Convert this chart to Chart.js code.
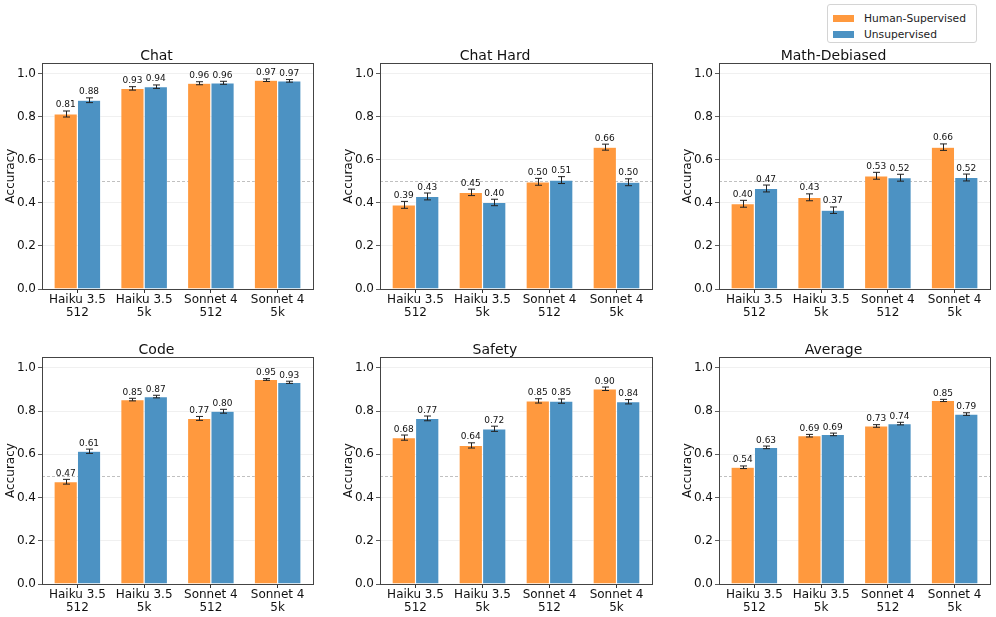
<!DOCTYPE html>
<html>
<head>
<meta charset="utf-8">
<script src="https://cdn.jsdelivr.net/npm/chart.js@4.4.1/dist/chart.umd.min.js"></script>
<style>
  html, body { margin: 0; padding: 0; background: #fff; }
  body { width: 996px; height: 617px; position: relative; overflow: hidden; font-family: "DejaVu Sans", sans-serif; }
  canvas { position: absolute; }
  #legend { position: absolute; left: 827px; top: 4px; width: 148px; height: 37px; border: 1px solid #d4d4d4; border-radius: 3px; background: #fff; font-size: 10.7px; color: #222; }
  .item { position: absolute; left: 5px; height: 14px; display: flex; align-items: center; }
  .sw { display: inline-block; width: 21px; height: 7px; margin-right: 10px; }
</style>
</head>
<body>
<div id="legend">
  <div class="item" style="top:6px"><span class="sw" style="background:#ff993e"></span>Human-Supervised</div>
  <div class="item" style="top:22px"><span class="sw" style="background:#4c92c3"></span>Unsupervised</div>
</div>
<script>
// data
const categories = [['Haiku 3.5', '512'], ['Haiku 3.5', '5k'], ['Sonnet 4', '512'], ['Sonnet 4', '5k']];
const seriesNames = ['Human-Supervised', 'Unsupervised'];
const yTicks = [0, 0.2, 0.4, 0.6, 0.8, 1.0];
const panelTitles = ['Chat', 'Chat Hard', 'Math-Debiased', 'Code', 'Safety', 'Average'];

const chatHuman = [0.813, 0.932, 0.956, 0.970];
const chatUnsup = [0.877, 0.940, 0.958, 0.967];
const chatHumanErr = [0.014, 0.008, 0.007, 0.006];
const chatUnsupErr = [0.011, 0.008, 0.007, 0.006];

const chatHardHuman = [0.391, 0.449, 0.498, 0.659];
const chatHardUnsup = [0.430, 0.402, 0.506, 0.496];
const chatHardHumanErr = [0.016, 0.015, 0.016, 0.014];
const chatHardUnsupErr = [0.016, 0.015, 0.016, 0.016];

const mathHuman = [0.396, 0.426, 0.526, 0.659];
const mathUnsup = [0.467, 0.366, 0.517, 0.518];
const mathHumanErr = [0.016, 0.016, 0.016, 0.015];
const mathUnsupErr = [0.016, 0.015, 0.016, 0.016];

const codeHuman = [0.473, 0.853, 0.766, 0.946];
const codeUnsup = [0.614, 0.867, 0.799, 0.933];
const codeHumanErr = [0.011, 0.006, 0.009, 0.004];
const codeUnsupErr = [0.010, 0.006, 0.009, 0.005];

const safetyHuman = [0.677, 0.641, 0.847, 0.903];
const safetyUnsup = [0.766, 0.718, 0.846, 0.843];
const safetyHumanErr = [0.012, 0.012, 0.010, 0.008];
const safetyUnsupErr = [0.011, 0.012, 0.010, 0.010];

const avgHuman = [0.540, 0.686, 0.731, 0.849];
const avgUnsup = [0.632, 0.692, 0.742, 0.786];
const avgHumanErr = [0.006, 0.006, 0.006, 0.005];
const avgUnsupErr = [0.006, 0.006, 0.006, 0.006];

const panels = [
  [chatHuman, chatUnsup, chatHumanErr, chatUnsupErr],
  [chatHardHuman, chatHardUnsup, chatHardHumanErr, chatHardUnsupErr],
  [mathHuman, mathUnsup, mathHumanErr, mathUnsupErr],
  [codeHuman, codeUnsup, codeHumanErr, codeUnsupErr],
  [safetyHuman, safetyUnsup, safetyHumanErr, safetyUnsupErr],
  [avgHuman, avgUnsup, avgHumanErr, avgUnsupErr],
];

const colors = ['#ff993e', '#4c92c3'];

// plot-area layout in page pixels
const cols = [[42, 313], [380, 652], [719, 990]];
const rows = [[63, 289], [357, 584]];
const AXIS_W = 42, TITLE_H = 32, XAXIS_H = 33, PAD_R = 4;

const frameAndRef = {
  id: 'frameAndRef',
  beforeDatasetsDraw(chart) {
    const { ctx, chartArea: a, scales: { y } } = chart;
    ctx.save();
    ctx.strokeStyle = '#b0b0b0';
    ctx.lineWidth = 0.8;
    ctx.setLineDash([3, 2]);
    const py = Math.round(y.getPixelForValue(0.5)) + 0.5;
    ctx.beginPath();
    ctx.moveTo(a.left, py);
    ctx.lineTo(a.right, py);
    ctx.stroke();
    ctx.restore();
  },
  afterDraw(chart) {
    const { ctx, chartArea: a } = chart;
    ctx.save();
    ctx.strokeStyle = '#444';
    ctx.lineWidth = 1;
    ctx.strokeRect(Math.round(a.left) + 0.5, Math.round(a.top) + 0.5, Math.round(a.right - a.left), Math.round(a.bottom - a.top));
    ctx.restore();
  }
};

const errorBars = {
  id: 'errorBars',
  afterDatasetsDraw(chart) {
    const { ctx, scales: { y } } = chart;
    ctx.save();
    chart.data.datasets.forEach((ds, di) => {
      const meta = chart.getDatasetMeta(di);
      meta.data.forEach((bar, i) => {
        const v = ds.data[i].y;
        const e = ds.errors[i];
        const top = y.getPixelForValue(v + e);
        const bot = y.getPixelForValue(v - e);
        const x = Math.round(bar.x) + 0.5;
        ctx.strokeStyle = '#222';
        ctx.lineWidth = 1;
        ctx.beginPath();
        ctx.moveTo(x, top); ctx.lineTo(x, bot);
        ctx.moveTo(x - 3.5, top); ctx.lineTo(x + 3.5, top);
        ctx.moveTo(x - 3.5, bot); ctx.lineTo(x + 3.5, bot);
        ctx.stroke();
        ctx.fillStyle = '#111';
        ctx.font = '9px "DejaVu Sans"';
        ctx.textAlign = 'center';
        ctx.textBaseline = 'alphabetic';
        ctx.fillText(v.toFixed(2), bar.x, top - 3.5);
      });
    });
    ctx.restore();
  }
};

panels.forEach((p, k) => {
  const [x0, x1] = cols[k % 3];
  const [y0, y1] = rows[Math.floor(k / 3)];
  const canvas = document.createElement('canvas');
  const w = (x1 - x0) + AXIS_W + PAD_R;
  const h = (y1 - y0) + TITLE_H + XAXIS_H;
  canvas.width = w; canvas.height = h;
  canvas.style.left = (x0 - AXIS_W) + 'px';
  canvas.style.top = (y0 - TITLE_H) + 'px';
  canvas.style.width = w + 'px';
  canvas.style.height = h + 'px';
  document.body.appendChild(canvas);

  new Chart(canvas, {
    type: 'bar',
    data: {
      datasets: [0, 1].map(s => ({
        label: seriesNames[s],
        data: p[s].map((v, i) => ({ x: i, y: v })),
        errors: p[s + 2],
        backgroundColor: colors[s],
        borderColor: 'rgba(255,255,255,0.5)',
        borderWidth: 0.6,
        categoryPercentage: 0.7,
        barPercentage: 1.0,
      })),
    },
    options: {
      responsive: false,
      animation: false,
      devicePixelRatio: 1,
      layout: { padding: { left: 0, right: PAD_R, top: 0, bottom: 0 } },
      plugins: {
        legend: { display: false },
        tooltip: { enabled: false },
        title: {
          display: true,
          text: panelTitles[k],
          color: '#111',
          font: { family: 'DejaVu Sans', size: 14, weight: 'normal', lineHeight: 0.93 },
          padding: { top: 32 - 13.02, bottom: 0 },
        },
      },
      scales: {
        x: {
          type: 'linear',
          min: -0.53,
          max: 3.53,
          offset: false,
          afterBuildTicks: s => { s.ticks = categories.map((c, i) => ({ value: i })); },
          afterFit: s => { s.height = XAXIS_H; },
          ticks: {
            callback: v => categories[v],
            autoSkip: false,
            maxRotation: 0,
            color: '#111',
            padding: 1,
            font: { family: 'DejaVu Sans', size: 12, lineHeight: 1.05 },
          },
          grid: { drawOnChartArea: false, offset: false, tickColor: '#333', tickLength: 4 },
          border: { display: true, color: '#444', width: 1 },
        },
        y: {
          min: 0,
          max: 1.05,
          afterBuildTicks: s => { s.ticks = yTicks.map(v => ({ value: v })); },
          afterFit: s => { s.width = AXIS_W; },
          ticks: {
            callback: v => v.toFixed(1),
            color: '#111',
            padding: 2,
            font: { family: 'DejaVu Sans', size: 12 },
          },
          grid: { color: 'rgba(0,0,0,0.08)', lineWidth: 0.8, tickColor: '#333', tickLength: 4 },
          border: { display: true, color: '#444', width: 1 },
          title: {
            display: true,
            text: 'Accuracy',
            color: '#111',
            font: { family: 'DejaVu Sans', size: 12 },
            padding: { top: 4, bottom: 0 },
          },
        },
      },
    },
    plugins: [frameAndRef, errorBars],
  });
});
</script>
</body>
</html>
